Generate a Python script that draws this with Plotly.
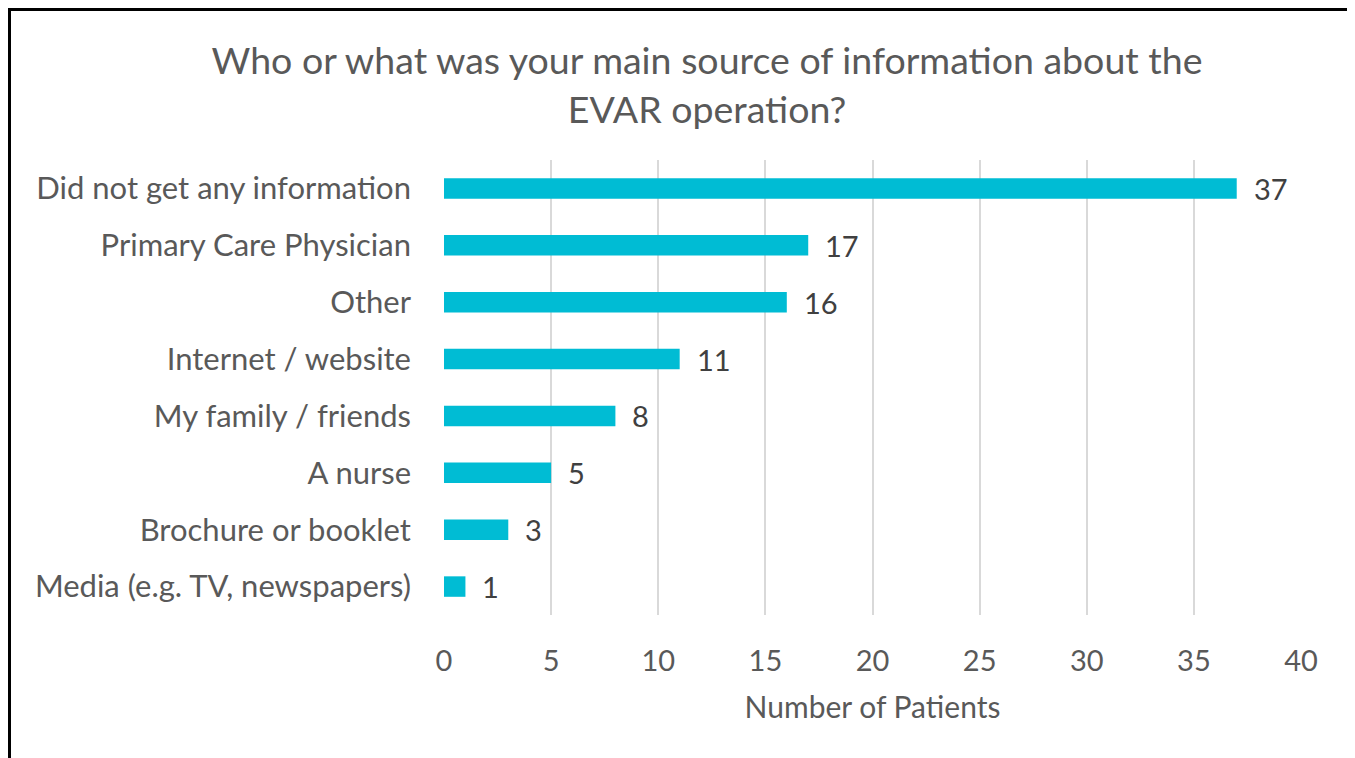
import plotly.graph_objects as go

categories = ["Did not get any information", "Primary Care Physician", "Other",
              "Internet / website", "My family / friends", "A nurse",
              "Brochure or booklet", "Media (e.g. TV, newspapers)"]
values = [37, 17, 16, 11, 8, 5, 3, 1]
x_ticks = [0, 5, 10, 15, 20, 25, 30, 35, 40]

OFF = 8  # page body margin offset
W, H = 1355 - OFF, 758 - OFF
L, R, T, B = 444 - OFF, 1301 - OFF, 160 - OFF, 615 - OFF

FONT = "Lato"
GRAY = "#595959"

fig = go.Figure(go.Bar(
    y=categories, x=values, orientation="h",
    marker=dict(color="#00BCD4", line=dict(width=0)),
    width=0.36,
))

for c, v in zip(categories, values):
    fig.add_annotation(x=v, y=c, xref="x", yref="y", text=str(v), showarrow=False,
                       xanchor="left", yanchor="middle", xshift=15,
                       font=dict(family=FONT, size=29, color="#404040"))

def fx(p):
    # figure pixel -> paper coordinate
    return (p - L) / (R - L)

def fy(p):
    return (B - p) / (B - T)

fig.update_layout(
    width=W, height=H,
    margin=dict(l=L, r=W - R, t=T, b=H - B, autoexpand=False),
    paper_bgcolor="white", plot_bgcolor="white",
    showlegend=False,
    title=dict(text="Who or what was your main source of information about the<br>EVAR operation?",
               x=(707 - OFF) / W, xanchor="center", y=1 - (74 - OFF) / H, yanchor="middle",
               font=dict(family=FONT, size=37.5, color=GRAY)),
    xaxis=dict(range=[0, 40], tickvals=x_ticks, showgrid=True, gridcolor="#D9D9D9",
               gridwidth=2, zeroline=False, showline=False,
               tickfont=dict(family=FONT, size=29, color=GRAY), ticklabelstandoff=26,
               title=dict(text="Number of Patients", font=dict(family=FONT, size=30, color=GRAY),
                          standoff=20)),
    yaxis=dict(categoryorder="array", categoryarray=categories[::-1],
               showgrid=False, zeroline=False, showline=False,
               tickfont=dict(family=FONT, size=31, color=GRAY), ticklabelstandoff=32),
    shapes=[
        dict(type="line", xref="paper", yref="paper", x0=fx(1.5), x1=fx(1.5),
             y0=fy(0), y1=fy(H + 10), line=dict(color="black", width=3)),
        dict(type="line", xref="paper", yref="paper", x0=fx(0), x1=fx(1341.5),
             y0=fy(1.5), y1=fy(1.5), line=dict(color="black", width=3)),
        dict(type="line", xref="paper", yref="paper", x0=fx(1341.5), x1=fx(1341.5),
             y0=fy(0), y1=fy(H + 10), line=dict(color="black", width=3)),
    ],
)

fig.write_html("out.html")
